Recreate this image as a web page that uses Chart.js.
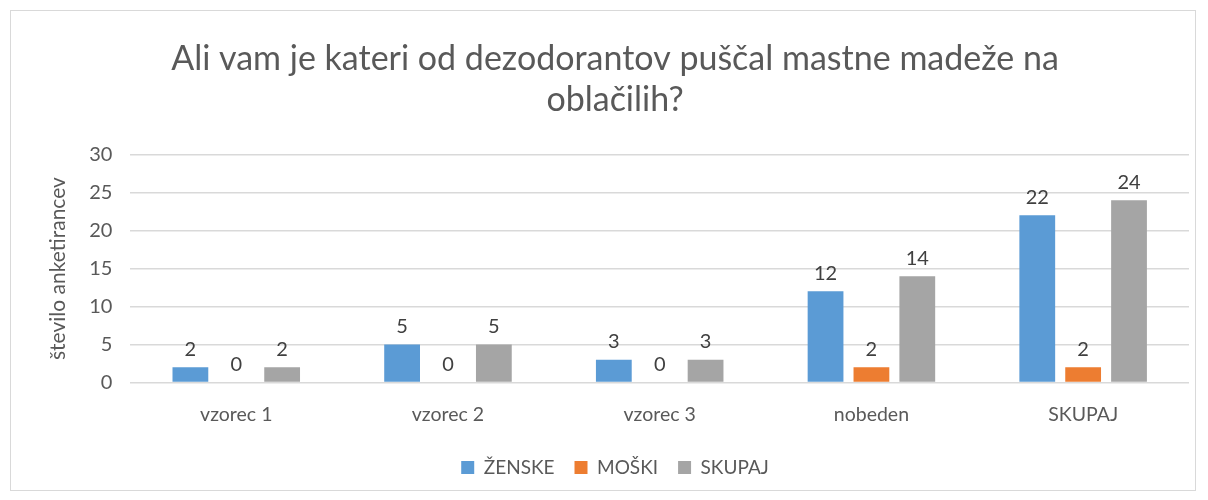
<!DOCTYPE html>
<html>
<head>
<meta charset="utf-8">
<script src="https://cdn.jsdelivr.net/npm/chart.js@4"></script>
<style>
  body { margin: 0; background: #fff; }
  #box {
    position: absolute; left: 10px; top: 10px;
    width: 1186px; height: 481px;
    border: 1px solid #d9d9d9; box-sizing: border-box;
  }
</style>
</head>
<body>
<div id="box"><canvas id="chart"></canvas></div>
<script>
const categories = ["vzorec 1", "vzorec 2", "vzorec 3", "nobeden", "SKUPAJ"];
const zenske = [2, 5, 3, 12, 22];
const moski = [0, 0, 0, 2, 2];
const skupaj = [2, 5, 3, 14, 24];
const yTicks = [0, 5, 10, 15, 20, 25, 30];

const font = "Lato, 'Open Sans', sans-serif";

const valueLabels = {
  id: "valueLabels",
  afterDatasetsDraw(chart) {
    const ctx = chart.ctx;
    ctx.save();
    ctx.font = "20px " + font;
    ctx.fillStyle = "#404040";
    ctx.textAlign = "center";
    ctx.textBaseline = "bottom";
    chart.data.datasets.forEach((ds, i) => {
      chart.getDatasetMeta(i).data.forEach((bar, j) => {
        ctx.fillText(ds.data[j], bar.x, bar.y - 8);
      });
    });
    ctx.restore();
  }
};

new Chart(document.getElementById("chart"), {
  type: "bar",
  data: {
    labels: categories,
    datasets: [
      { label: "ŽENSKE", data: zenske, backgroundColor: "#5b9bd5" },
      { label: "MOŠKI", data: moski, backgroundColor: "#ed7d31" },
      { label: "SKUPAJ", data: skupaj, backgroundColor: "#a5a5a5" }
    ]
  },
  options: {
    responsive: true,
    maintainAspectRatio: false,
    animation: false,
    categoryPercentage: 0.65,
    barPercentage: 0.78,
    layout: { padding: { left: 30, right: 6, top: 10, bottom: 3 } },
    plugins: {
      title: {
        display: true,
        text: ["Ali vam je kateri od dezodorantov puščal mastne madeže na", "oblačilih?"],
        color: "#595959",
        font: { family: font, size: 34, weight: "normal", lineHeight: 1.2 },
        padding: { top: 18, bottom: 34 }
      },
      legend: {
        position: "bottom",
        labels: {
          color: "#595959",
          font: { family: font, size: 19 },
          boxWidth: 13, boxHeight: 13, padding: 20
        }
      },
      tooltip: { enabled: false }
    },
    scales: {
      x: {
        grid: { display: false },
        border: { display: false },
        ticks: { color: "#595959", font: { family: font, size: 19.5, lineHeight: 1.0 }, padding: 14 }
      },
      y: {
        min: 0, max: 30,
        afterBuildTicks: axis => { axis.ticks = yTicks.map(v => ({ value: v })); },
        grid: { color: "#d9d9d9", lineWidth: 1.5, drawTicks: false },
        border: { display: false },
        ticks: { color: "#595959", font: { family: font, size: 20 }, padding: 18 },
        title: {
          display: true, text: "število anketirancev",
          color: "#595959", font: { family: font, size: 21 },
          padding: { top: 5, bottom: 0 }
        }
      }
    }
  },
  plugins: [valueLabels]
});
</script>
</body>
</html>
